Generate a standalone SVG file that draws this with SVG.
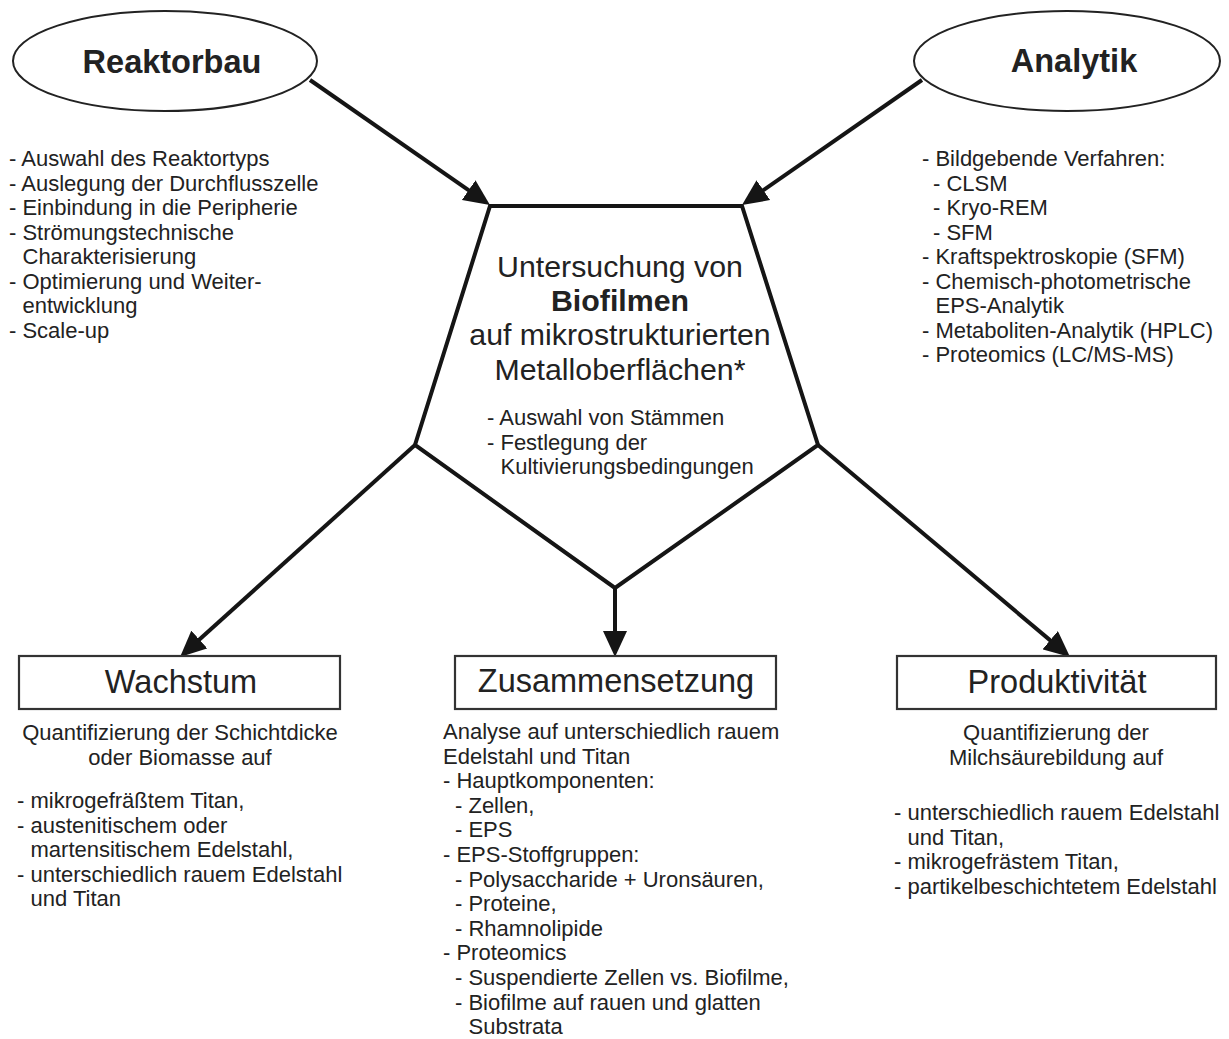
<svg xmlns="http://www.w3.org/2000/svg" width="1229" height="1039" viewBox="0 0 1229 1039">
<style>
text{font-family:"Liberation Sans",Arial,sans-serif;fill:#222;}
.b{font-size:22px;}
.t{font-size:32.5px;font-weight:bold;text-anchor:middle;}
.c{font-size:30.3px;text-anchor:middle;}
.bx{font-size:32.5px;text-anchor:middle;}
.m{text-anchor:middle;}
.ell{fill:#fff;stroke:#222;stroke-width:2;}
.box{fill:#fff;stroke:#333;stroke-width:2.2;}
.pent{fill:none;stroke:#151515;stroke-width:4;stroke-linejoin:miter;}
.con{stroke:#151515;stroke-width:4;fill:none;marker-end:url(#ah);}
</style>
<defs>
<marker id="ah" markerUnits="userSpaceOnUse" markerWidth="26" markerHeight="24" refX="13" refY="12" orient="auto">
<path d="M0,0 L26,12 L0,24 Z" fill="#151515"/>
</marker>
</defs>
<rect width="1229" height="1039" fill="#fff"/>

<g id="connectors">
<line class="con" x1="310" y1="80" x2="479.3" y2="197.6"/>
<line class="con" x1="922" y1="80" x2="752.7" y2="197.6"/>
<line class="con" x1="415" y1="445" x2="189.7" y2="648.3"/>
<line class="con" x1="818" y1="445" x2="1060.1" y2="648.6"/>
<line class="con" x1="615" y1="588" x2="615" y2="644"/>
</g>

<g id="reaktorbau">
<ellipse class="ell" cx="165" cy="61" rx="152" ry="50"/>
<text class="t" x="172" y="73">Reaktorbau</text>
<text class="b" x="9" y="166">- Auswahl des Reaktortyps</text>
<text class="b" x="9" y="190.5">- Auslegung der Durchflusszelle</text>
<text class="b" x="9" y="215">- Einbindung in die Peripherie</text>
<text class="b" x="9" y="239.5">- Strömungstechnische</text>
<text class="b" x="22.5" y="264">Charakterisierung</text>
<text class="b" x="9" y="288.5">- Optimierung und Weiter-</text>
<text class="b" x="22.5" y="313">entwicklung</text>
<text class="b" x="9" y="337.5">- Scale-up</text>
</g>

<g id="analytik">
<ellipse class="ell" cx="1067" cy="61" rx="153" ry="50"/>
<text class="t" x="1074" y="72">Analytik</text>
<text class="b" x="922" y="166">- Bildgebende Verfahren:</text>
<text class="b" x="933" y="190.5">- CLSM</text>
<text class="b" x="933" y="215">- Kryo-REM</text>
<text class="b" x="933" y="239.5">- SFM</text>
<text class="b" x="922" y="264">- Kraftspektroskopie (SFM)</text>
<text class="b" x="922" y="288.5">- Chemisch-photometrische</text>
<text class="b" x="935.5" y="313">EPS-Analytik</text>
<text class="b" x="922" y="337.5">- Metaboliten-Analytik (HPLC)</text>
<text class="b" x="922" y="362">- Proteomics (LC/MS-MS)</text>
</g>

<g id="biofilme">
<polygon class="pent" points="490,206 742,206 818,445 615,588 415,445"/>
<text class="c" x="620" y="277">Untersuchung von</text>
<text class="c" x="620" y="311" font-weight="bold">Biofilmen</text>
<text class="c" x="620" y="345">auf mikrostrukturierten</text>
<text class="c" x="620" y="380">Metalloberflächen*</text>
<text class="b" x="487" y="425">- Auswahl von Stämmen</text>
<text class="b" x="487" y="449.5">- Festlegung der</text>
<text class="b" x="500.5" y="474">Kultivierungsbedingungen</text>
</g>

<g id="wachstum">
<rect class="box" x="19" y="656" width="321" height="53"/>
<text class="bx" x="181" y="693">Wachstum</text>
<text class="b m" x="180" y="740">Quantifizierung der Schichtdicke</text>
<text class="b m" x="180" y="764.5">oder Biomasse auf</text>
<text class="b" x="17" y="808">- mikrogefräßtem Titan,</text>
<text class="b" x="17" y="832.5">- austenitischem oder</text>
<text class="b" x="30.5" y="857">martensitischem Edelstahl,</text>
<text class="b" x="17" y="881.5">- unterschiedlich rauem Edelstahl</text>
<text class="b" x="30.5" y="906">und Titan</text>
</g>

<g id="zusammensetzung">
<rect class="box" x="455" y="656" width="321" height="53"/>
<text class="bx" x="616" y="692">Zusammensetzung</text>
<text class="b" x="443" y="739">Analyse auf unterschiedlich rauem</text>
<text class="b" x="443" y="763.6">Edelstahl und Titan</text>
<text class="b" x="443" y="788.2">- Hauptkomponenten:</text>
<text class="b" x="455" y="812.8">- Zellen,</text>
<text class="b" x="455" y="837.4">- EPS</text>
<text class="b" x="443" y="862">- EPS-Stoffgruppen:</text>
<text class="b" x="455" y="886.6">- Polysaccharide + Uronsäuren,</text>
<text class="b" x="455" y="911.2">- Proteine,</text>
<text class="b" x="455" y="935.8">- Rhamnolipide</text>
<text class="b" x="443" y="960.4">- Proteomics</text>
<text class="b" x="455" y="985">- Suspendierte Zellen vs. Biofilme,</text>
<text class="b" x="455" y="1009.6">- Biofilme auf rauen und glatten</text>
<text class="b" x="468.5" y="1034.2">Substrata</text>
</g>

<g id="produktivitaet">
<rect class="box" x="897" y="656" width="319" height="53"/>
<text class="bx" x="1057" y="693">Produktivität</text>
<text class="b m" x="1056" y="740">Quantifizierung der</text>
<text class="b m" x="1056" y="764.5">Milchsäurebildung auf</text>
<text class="b" x="894" y="820">- unterschiedlich rauem Edelstahl</text>
<text class="b" x="907.5" y="844.5">und Titan,</text>
<text class="b" x="894" y="869">- mikrogefrästem Titan,</text>
<text class="b" x="894" y="893.5">- partikelbeschichtetem Edelstahl</text>
</g>
</svg>
